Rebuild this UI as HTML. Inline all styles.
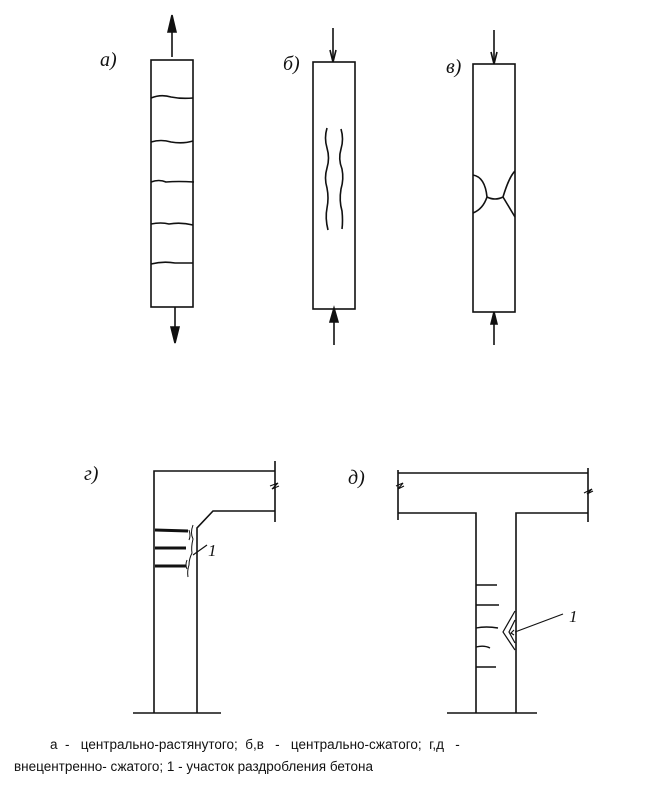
<!DOCTYPE html>
<html><head><meta charset="utf-8"><style>
html,body{margin:0;padding:0;background:#fff}
.c{position:absolute;font-family:"Liberation Sans",sans-serif;font-size:13.5px;color:#111;white-space:pre}
</style></head><body>
<div style="position:relative;width:662px;height:789px;overflow:hidden">
<svg width="662" height="789" style="position:absolute;left:0;top:0" fill="none" stroke="#111" stroke-width="1.6">
<!-- a -->
<rect x="151" y="60" width="42" height="247"/>
<path d="M151 98 q10 -4 20 -1 q10 2 22 1 M151 142 q10 -3 20 0 q12 2 22 -1 M151 182 q8 -3 15 0 q12 -1 28 0 M151 224 q10 -2 18 0 q12 -2 24 1 M151 264 q12 -3 24 -1 q8 0 18 0"/>
<line x1="172" y1="57" x2="172" y2="22"/><path d="M168 32 L172 15 L176 32 Z" fill="#111"/>
<line x1="175" y1="307" x2="175" y2="335"/><path d="M171 327 L175 343 L179 327 Z" fill="#111"/>
<text x="100" y="66" font-family="Liberation Serif" font-style="italic" font-size="20" fill="#111" stroke="none">a)</text>
<!-- b -->
<rect x="313" y="62" width="42" height="247"/>
<path d="M327 128 q-3 10 0 20 q3 10 0 20 q-3 10 0 20 q2 10 0 20 q-2 10 1 22 M341 129 q3 10 0 20 q-3 10 1 20 q2 10 -1 20 q-2 12 1 22 q1 10 0 18"/>
<line x1="333" y1="28" x2="333" y2="62"/><path d="M330 50 L333 62 L336 50"/>
<line x1="334" y1="345" x2="334" y2="312"/><path d="M330 322 L334 308 L338 322 Z" fill="#111"/>
<text x="283" y="70" font-family="Liberation Serif" font-style="italic" font-size="20" fill="#111" stroke="none">б)</text>
<!-- c -->
<rect x="473" y="64" width="42" height="248"/>
<path d="M473 175 q12 2 14 22 q8 4 16 0 q6 -20 12 -26 M487 197 q-4 12 -14 16 M503 197 q6 10 12 20"/>
<line x1="494" y1="30" x2="494" y2="64"/><path d="M491 52 L494 64 L497 52"/>
<line x1="494" y1="345" x2="494" y2="314"/><path d="M491 324 L494 312 L497 324 Z" fill="#111"/>
<text x="446" y="73" font-family="Liberation Serif" font-style="italic" font-size="20" fill="#111" stroke="none">в)</text>
<!-- г -->
<path d="M154 713 V471 H275 M275 461 V522 M275 511 H213 L197 528 V713 M133 713 H221"/>
<path d="M270 486 l8 -3 l-6 6 l7 -3" stroke-width="1.2"/>
<path d="M155 530 L188 531 M155 548 L186 548 M155 566 L186 566" stroke-width="3"/>
<path d="M193 525 q-3 8 0 14 q-2 8 -1 14 q-3 6 -3 12 q-2 6 -1 12 M189 530 q2 6 0 10 M187 560 q-2 5 0 9" stroke-width="1"/>
<path d="M193 555 L207 545" stroke-width="1.2"/>
<text x="208" y="556" font-family="Liberation Serif" font-style="italic" font-size="17" fill="#111" stroke="none">1</text>
<text x="84" y="480" font-family="Liberation Serif" font-style="italic" font-size="20" fill="#111" stroke="none">г)</text>
<!-- д -->
<path d="M398 470 V520 M398 473 H588 M588 468 V522 M398 513 H476 V713 M516 713 V513 H588 M447 713 H537"/>
<path d="M396 486 l7 -3 l-5 6 l6 -3 M584 493 l8 -4 l-5 5 l6 -3" stroke-width="1.2"/>
<path d="M476 585 H497 M476 605 H499 M476 628 q10 -2 22 0 M476 647 q8 -2 14 1 M476 667 H496" stroke-width="1.4"/>
<path d="M515 611 L503 632 L515 650 M515 620 L509 632 L515 643 M514 630 l-3 3 l3 2" stroke-width="1.2"/>
<path d="M515 632 L563 614" stroke-width="1.2"/>
<text x="569" y="622" font-family="Liberation Serif" font-style="italic" font-size="17" fill="#111" stroke="none">1</text>
<text x="348" y="484" font-family="Liberation Serif" font-style="italic" font-size="20" fill="#111" stroke="none">д)</text>
</svg>
<div class="c" style="left:50px;top:737px">а  -   центрально-растянутого;  б,в   -   центрально-сжатого;  г,д   -</div>
<div class="c" style="left:14px;top:759px">внецентренно- сжатого; 1 - участок раздробления бетона</div>
</div>
</body></html>
